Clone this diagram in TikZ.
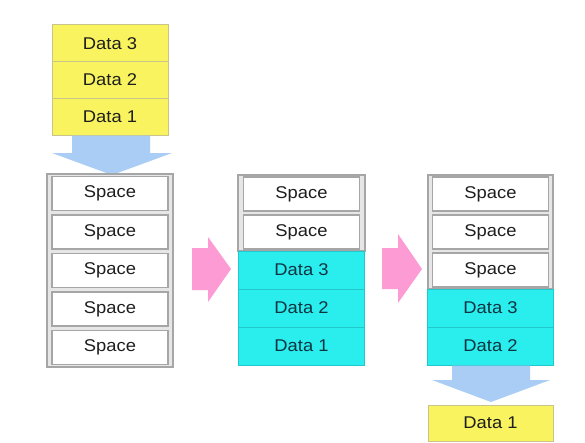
\documentclass[tikz,border=0pt]{standalone}
\usepackage{fontspec}
\setmainfont{Liberation Sans}[FakeStretch=1.08]
\definecolor{yel}{HTML}{F8F35E}
\definecolor{yelb}{HTML}{C9C48A}
\definecolor{cyf}{HTML}{2AEDEE}
\definecolor{cyb}{HTML}{22C8CC}
\definecolor{cyin}{HTML}{52F3F3}
\definecolor{grb}{HTML}{A6A6A6}
\definecolor{grf}{HTML}{E6E6E6}
\definecolor{blu}{HTML}{A9CDF4}
\definecolor{pnk}{HTML}{FC9BD4}
\definecolor{txt}{HTML}{1E1E1E}
\definecolor{ctxt}{HTML}{0E3440}
\begin{document}
\begin{tikzpicture}[x=1pt,y=-1pt,
  lbl/.style={font=\fontsize{17}{17}\selectfont, inner sep=0pt},
  yrow/.style={lbl, rectangle, draw=yelb, fill=yel, line width=1pt, minimum width=116pt, minimum height=36.7pt, text=txt},
  srow/.style={lbl, rectangle, draw=grb, fill=white, line width=1.5pt, minimum width=116pt, minimum height=34pt, text=txt},
  crow/.style={lbl, rectangle, draw=cyb, fill=cyf, line width=0.8pt, minimum width=126pt, minimum height=38pt, text=ctxt},
  frame/.style={draw=grb, fill=grf, line width=1.5pt},
  barrow/.style={fill=blu},
  parrow/.style={fill=pnk}
]
\useasboundingbox[fill=white] (0,0) rectangle (585,442);

% top yellow stack
\node[yrow] (t3) at (110,43.3) {Data 3};
\node[yrow] (t2) at (110,80) {Data 2};
\node[yrow] (t1) at (110,116.7) {Data 1};

% top blue arrow
\fill[barrow] (72,135.5) -- (150,135.5) -- (150,153) -- (172,153) -- (112,175) -- (52,153) -- (72,153) -- cycle;

% stack 1
\draw[frame] (47,174) rectangle (173,367);
\node[srow] (a1) at (110,193.3) {Space};
\node[srow] (a2) at (110,231.9) {Space};
\node[srow] (a3) at (110,270.5) {Space};
\node[srow] (a4) at (110,309.1) {Space};
\node[srow] (a5) at (110,347.7) {Space};

% pink arrow 1
\fill[parrow] (192,248) -- (208,248) -- (208,237) -- (231,269) -- (208,302) -- (208,290) -- (192,290) -- cycle;

% stack 2
\draw[frame] (238,175) rectangle (365,251);
\node[srow] (b1) at (301.5,194) {Space};
\node[srow] (b2) at (301.5,232) {Space};
\node[crow] (b3) at (301.5,270) {Data 3};
\node[crow] (b4) at (301.5,308) {Data 2};
\node[crow] (b5) at (301.5,346) {Data 1};

% pink arrow 2
\fill[parrow] (382,248) -- (398,248) -- (398,234) -- (422,269) -- (398,303) -- (398,289) -- (382,289) -- cycle;

% stack 3
\draw[frame] (428,175) rectangle (553,289);
\node[srow] (c1) at (490.5,194) {Space};
\node[srow] (c2) at (490.5,232) {Space};
\node[srow] (c3) at (490.5,270) {Space};
\node[crow] (c4) at (490.5,308) {Data 3};
\node[crow] (c5) at (490.5,346) {Data 2};

% bottom blue arrow
\fill[barrow] (452,365.5) -- (530,365.5) -- (530,380) -- (550,380) -- (491,402) -- (432,380) -- (452,380) -- cycle;

% output
\node[yrow, minimum width=125pt, minimum height=36pt] (d1) at (490.5,423) {Data 1};
\end{tikzpicture}
\end{document}
